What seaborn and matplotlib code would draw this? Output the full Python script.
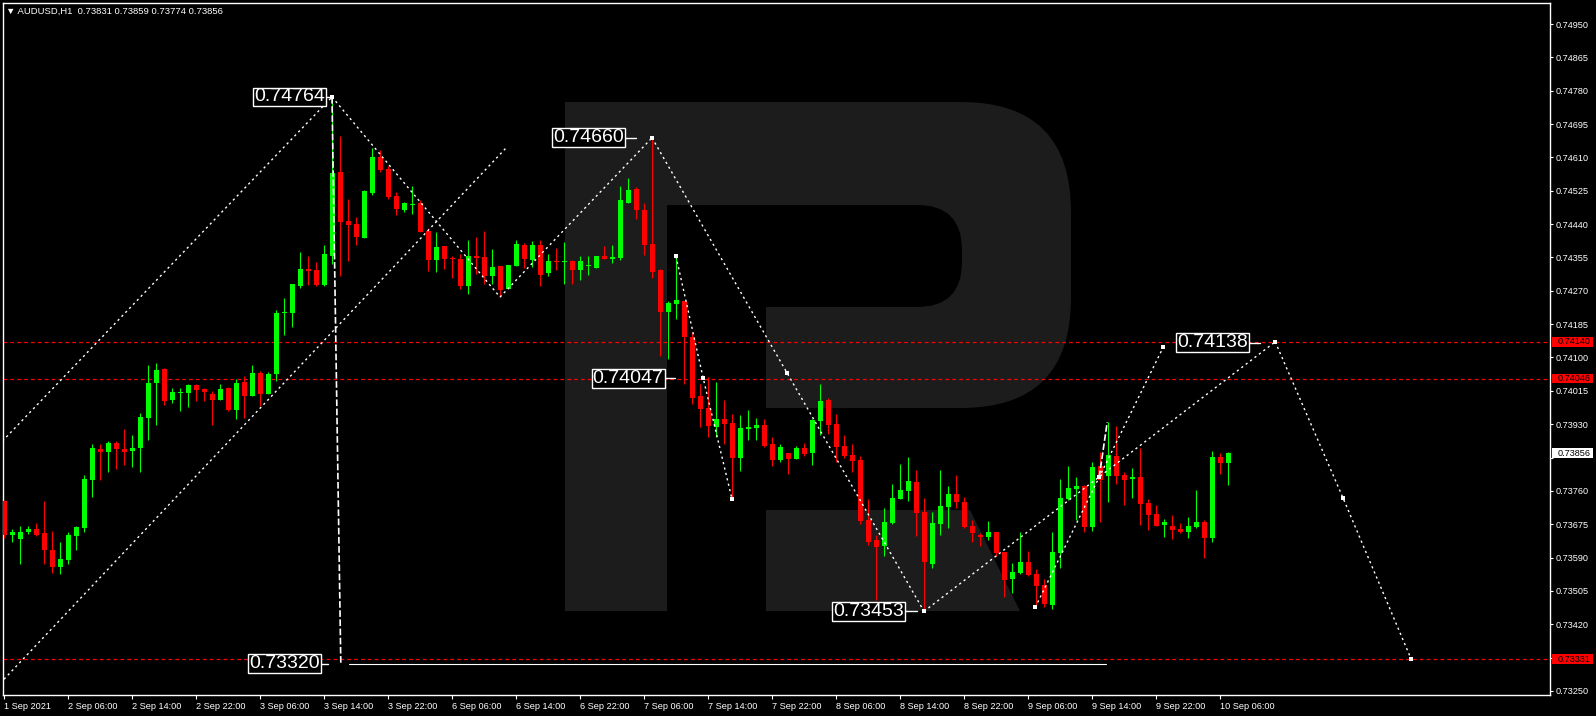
import matplotlib
matplotlib.use("Agg")
import numpy as np
import pandas as pd
import matplotlib.pyplot as plt
import matplotlib.transforms as mtransforms
from matplotlib.patches import FancyBboxPatch, Polygon, Rectangle
import seaborn as sns

# AUDUSD H1 bars, 1 Sep 22:00 .. 10 Sep 07:00
symbol = "AUDUSD,H1"

opens = [
    0.73734, 0.73647, 0.73637, 0.73654, 0.73662, 0.73652, 0.73609, 0.73565, 0.73583, 0.73644,
    0.73665, 0.73787, 0.73866, 0.73858, 0.73881, 0.73866, 0.73861, 0.73869, 0.73945, 0.74034,
    0.74070, 0.73991, 0.74009, 0.74009, 0.74029, 0.74019, 0.74006, 0.73991, 0.74022, 0.73965,
    0.74037, 0.74001, 0.74060, 0.74006, 0.74057, 0.74213, 0.74213, 0.74282, 0.74325, 0.74323,
    0.74284, 0.74358, 0.74572, 0.74448, 0.74440, 0.74404, 0.74519, 0.74611, 0.74580, 0.74511,
    0.74475, 0.74488, 0.74493, 0.74422, 0.74348, 0.74384, 0.74353, 0.74351, 0.74282, 0.74358,
    0.74356, 0.74307, 0.74333, 0.74274, 0.74333, 0.74386, 0.74348, 0.74386, 0.74315, 0.74345,
    0.74343, 0.74345, 0.74323, 0.74333, 0.74328, 0.74358, 0.74351, 0.74353, 0.74493, 0.74529,
    0.74475, 0.74389, 0.74322, 0.74215, 0.74236, 0.74243, 0.74152, 0.74001, 0.73971, 0.73922,
    0.73943, 0.73932, 0.73843, 0.73917, 0.73920, 0.73927, 0.73879, 0.73838, 0.73856, 0.73841,
    0.73869, 0.73856, 0.73937, 0.73991, 0.73930, 0.73874, 0.73851, 0.73838, 0.73685, 0.73634,
    0.73619, 0.73677, 0.73739, 0.73759, 0.73782, 0.73705, 0.73573, 0.73675, 0.73718, 0.73751,
    0.73731, 0.73670, 0.73647, 0.73642, 0.73654, 0.73603, 0.73535, 0.73550, 0.73578, 0.73547,
    0.73519, 0.73468, 0.73601, 0.73739, 0.73764, 0.73772, 0.73667, 0.73823, 0.73797, 0.73848,
    0.73800, 0.73790, 0.73795, 0.73728, 0.73700, 0.73672, 0.73670, 0.73662, 0.73654, 0.73667,
    0.73680, 0.73639, 0.73846, 0.73831,
]
highs = [
    0.73736, 0.73662, 0.73670, 0.73670, 0.73677, 0.73734, 0.73657, 0.73631, 0.73654, 0.73670,
    0.73800, 0.73879, 0.73879, 0.73886, 0.73886, 0.73917, 0.73902, 0.73958, 0.74080, 0.74085,
    0.74072, 0.74022, 0.74022, 0.74032, 0.74032, 0.74021, 0.74014, 0.74032, 0.74024, 0.74045,
    0.74052, 0.74080, 0.74065, 0.74062, 0.74220, 0.74251, 0.74287, 0.74368, 0.74358, 0.74343,
    0.74386, 0.74764, 0.74664, 0.74504, 0.74458, 0.74526, 0.74634, 0.74628, 0.74588, 0.74521,
    0.74496, 0.74537, 0.74501, 0.74430, 0.74419, 0.74384, 0.74358, 0.74363, 0.74399, 0.74407,
    0.74422, 0.74376, 0.74333, 0.74335, 0.74399, 0.74391, 0.74396, 0.74399, 0.74363, 0.74379,
    0.74394, 0.74348, 0.74358, 0.74358, 0.74358, 0.74384, 0.74386, 0.74537, 0.74557, 0.74534,
    0.74493, 0.74660, 0.74325, 0.74243, 0.74358, 0.74243, 0.74164, 0.74032, 0.74050, 0.74037,
    0.73991, 0.73955, 0.73953, 0.73966, 0.73945, 0.73943, 0.73897, 0.73879, 0.73856, 0.73874,
    0.73881, 0.73943, 0.74032, 0.73996, 0.73955, 0.73902, 0.73879, 0.73848, 0.73739, 0.73647,
    0.73716, 0.73777, 0.73828, 0.73846, 0.73812, 0.73741, 0.73705, 0.73812, 0.73772, 0.73800,
    0.73744, 0.73685, 0.73652, 0.73682, 0.73654, 0.73603, 0.73575, 0.73654, 0.73606, 0.73560,
    0.73535, 0.73654, 0.73790, 0.73823, 0.73795, 0.73774, 0.73833, 0.73858, 0.73935, 0.73925,
    0.73807, 0.73818, 0.73869, 0.73739, 0.73723, 0.73688, 0.73698, 0.73677, 0.73693, 0.73761,
    0.73685, 0.73861, 0.73856, 0.73859,
]
lows = [
    0.73639, 0.73629, 0.73573, 0.73649, 0.73644, 0.73573, 0.73550, 0.73547, 0.73573, 0.73609,
    0.73654, 0.73744, 0.73787, 0.73807, 0.73815, 0.73825, 0.73820, 0.73807, 0.73889, 0.73927,
    0.73978, 0.73983, 0.73963, 0.73973, 0.73988, 0.73988, 0.73927, 0.73991, 0.73963, 0.73943,
    0.73945, 0.74001, 0.73976, 0.74006, 0.74039, 0.74157, 0.74177, 0.74277, 0.74284, 0.74282,
    0.74282, 0.74338, 0.74307, 0.74345, 0.74386, 0.74404, 0.74514, 0.74572, 0.74504, 0.74463,
    0.74472, 0.74465, 0.74419, 0.74320, 0.74317, 0.74325, 0.74302, 0.74274, 0.74261, 0.74312,
    0.74287, 0.74287, 0.74254, 0.74274, 0.74333, 0.74328, 0.74330, 0.74282, 0.74307, 0.74323,
    0.74287, 0.74287, 0.74297, 0.74310, 0.74328, 0.74351, 0.74340, 0.74348, 0.74493, 0.74453,
    0.74361, 0.74302, 0.74103, 0.74096, 0.74197, 0.74032, 0.73981, 0.73922, 0.73897, 0.73897,
    0.73879, 0.73739, 0.73810, 0.73889, 0.73889, 0.73871, 0.73823, 0.73833, 0.73802, 0.73841,
    0.73848, 0.73825, 0.73902, 0.73904, 0.73833, 0.73843, 0.73807, 0.73675, 0.73621, 0.73481,
    0.73593, 0.73675, 0.73739, 0.73734, 0.73644, 0.73453, 0.73563, 0.73647, 0.73665, 0.73716,
    0.73665, 0.73631, 0.73619, 0.73634, 0.73593, 0.73489, 0.73499, 0.73547, 0.73542, 0.73461,
    0.73463, 0.73458, 0.73563, 0.73736, 0.73685, 0.73654, 0.73657, 0.73680, 0.73731, 0.73777,
    0.73723, 0.73741, 0.73672, 0.73660, 0.73670, 0.73642, 0.73637, 0.73652, 0.73639, 0.73665,
    0.73588, 0.73631, 0.73802, 0.73774,
]
closes = [
    0.73647, 0.73654, 0.73654, 0.73662, 0.73647, 0.73609, 0.73565, 0.73586, 0.73647, 0.73667,
    0.73790, 0.73869, 0.73858, 0.73881, 0.73866, 0.73858, 0.73869, 0.73948, 0.74034, 0.74067,
    0.73988, 0.74011, 0.74011, 0.74029, 0.74016, 0.74011, 0.73991, 0.74019, 0.73965, 0.74034,
    0.74001, 0.74060, 0.74006, 0.74057, 0.74213, 0.74215, 0.74287, 0.74325, 0.74320, 0.74284,
    0.74363, 0.74570, 0.74445, 0.74437, 0.74407, 0.74524, 0.74611, 0.74577, 0.74509, 0.74478,
    0.74493, 0.74491, 0.74419, 0.74348, 0.74381, 0.74351, 0.74351, 0.74282, 0.74358, 0.74353,
    0.74307, 0.74330, 0.74272, 0.74335, 0.74389, 0.74351, 0.74386, 0.74310, 0.74345, 0.74343,
    0.74345, 0.74323, 0.74345, 0.74335, 0.74358, 0.74351, 0.74356, 0.74501, 0.74526, 0.74475,
    0.74386, 0.74317, 0.74215, 0.74238, 0.74246, 0.74152, 0.73996, 0.73968, 0.73925, 0.73943,
    0.73930, 0.73843, 0.73920, 0.73922, 0.73927, 0.73874, 0.73838, 0.73871, 0.73841, 0.73869,
    0.73853, 0.73940, 0.73988, 0.73927, 0.73871, 0.73848, 0.73835, 0.73682, 0.73631, 0.73616,
    0.73680, 0.73741, 0.73761, 0.73784, 0.73703, 0.73578, 0.73677, 0.73721, 0.73751, 0.73731,
    0.73667, 0.73652, 0.73642, 0.73654, 0.73601, 0.73532, 0.73552, 0.73578, 0.73545, 0.73517,
    0.73471, 0.73603, 0.73741, 0.73767, 0.73772, 0.73667, 0.73820, 0.73787, 0.73851, 0.73797,
    0.73787, 0.73795, 0.73726, 0.73698, 0.73670, 0.73680, 0.73660, 0.73654, 0.73670, 0.73680,
    0.73639, 0.73846, 0.73830, 0.73856,
]

time_labels = [
    "1 Sep 2021", "2 Sep 06:00", "2 Sep 14:00", "2 Sep 22:00", "3 Sep 06:00",
    "3 Sep 14:00", "3 Sep 22:00", "6 Sep 06:00", "6 Sep 14:00", "6 Sep 22:00",
    "7 Sep 06:00", "7 Sep 14:00", "7 Sep 22:00", "8 Sep 06:00", "8 Sep 14:00",
    "8 Sep 22:00", "9 Sep 06:00", "9 Sep 14:00", "9 Sep 22:00", "10 Sep 06:00",
]

price_ticks = [
    0.74950, 0.74865, 0.74780, 0.74695, 0.74610, 0.74525, 0.74440, 0.74355, 0.74270,
    0.74185, 0.74100, 0.74015, 0.73930, 0.73845, 0.73760, 0.73675, 0.73590, 0.73505,
    0.73420, 0.73335, 0.73250,
]
# tick labels that sit under a price tag on the right axis
hidden_ticks = [0.73845, 0.73335]

# horizontal levels and right-axis tags
level_prices = [0.74140, 0.74046, 0.73331]
tag_prices = [0.74140, 0.74046, 0.73856, 0.73331]
tag_colors = ["#ff0000", "#ff0000", "#ffffff", "#ff0000"]

# forecast / wave lines (bar index, price)
wave_id = [0, 0, 1, 1, 2, 2, 3, 3, 4, 4, 4, 5, 5, 5, 6, 6, 7, 7, 7, 8, 8, 8]
wave_bar = [-0.2, 41, 0, 62.75, 41, 62, 62, 81, 81, 97.9, 115, 84, 87.4, 91,
            115, 158.9, 128.9, 136.9, 144.9, 158.9, 167.4, 175.9]
wave_price = [0.73887, 0.74764, 0.73280, 0.74634, 0.74764, 0.74254, 0.74254, 0.74660,
              0.74660, 0.74060, 0.73453, 0.74358, 0.74047, 0.73739, 0.73453, 0.74140,
              0.73463, 0.73795, 0.74126, 0.74140, 0.73741, 0.73331]

arrow_bar = [41, 81, 84, 87.4, 91, 97.9, 115, 128.9, 136.9, 144.9, 158.9, 167.4, 175.9]
arrow_price = [0.74764, 0.74660, 0.74358, 0.74047, 0.73739, 0.74060, 0.73453, 0.73463,
               0.73795, 0.74126, 0.74140, 0.73741, 0.73331]

target_price = 0.73320

label_texts = ["0.74764", "0.74660", "0.74047", "0.73453", "0.74138", "0.73320"]
label_prices = [0.74764, 0.74660, 0.74047, 0.73453, 0.74138, 0.73320]


def main():
    sns.set_style("ticks", {"axes.facecolor": "black", "figure.facecolor": "black"})
    plt.rcParams["font.family"] = ["Liberation Sans", "DejaVu Sans"]

    W, H = 1596, 716
    fig = plt.figure(figsize=(W / 100, H / 100), dpi=100)
    fig.patch.set_facecolor("black")

    # watermark logo, drawn in figure pixels
    bg = fig.add_axes([0, 0, 1, 1])
    bg.set_xlim(0, W)
    bg.set_ylim(H, 0)
    bg.axis("off")
    grey = "#1c1c1c"
    bg.add_patch(FancyBboxPatch((565, 102), 506, 306, boxstyle="round,pad=0,rounding_size=110",
                                fc=grey, ec="none"))
    bg.add_patch(Rectangle((565, 102), 300, 306, fc=grey, ec="none"))
    bg.add_patch(Rectangle((565, 102), 102, 509, fc=grey, ec="none"))
    bg.add_patch(FancyBboxPatch((667, 205), 295, 102, boxstyle="round,pad=0,rounding_size=45",
                                fc="black", ec="none"))
    bg.add_patch(Rectangle((667, 205), 150, 102, fc="black", ec="none"))
    bg.add_patch(Rectangle((667, 306), 99, 103, fc="black", ec="none"))
    bg.add_patch(Polygon([(766, 510), (970, 510), (1020, 611), (766, 611)], fc=grey, ec="none"))

    ax = fig.add_axes([2.5 / W, (H - 695.3) / H, 1547.5 / W, 692.6 / H])
    ax.set_facecolor("none")
    ax.set_xlim(-0.19, 193.25)
    ax.set_ylim(0.73239, 0.750043)
    ax.grid(False)

    o = np.array(opens)
    h = np.array(highs)
    l = np.array(lows)
    c = np.array(closes)
    x = np.arange(len(o))
    up = c >= o
    green, red = "#00ff00", "#ff0000"
    colors = np.where(up, green, red)

    # levels
    for p in level_prices:
        ax.axhline(p, color=red, lw=0.9, dashes=(3, 2.5), zorder=1)

    # candles
    ax.vlines(x, l, h, colors=colors, lw=0.8, zorder=3)
    body_lo = np.minimum(o, c)
    body_h = np.maximum(np.abs(c - o), 2.6e-5)
    ax.bar(x[up], body_h[up], bottom=body_lo[up], width=0.625, color=green, lw=0, zorder=3)
    ax.bar(x[~up], body_h[~up], bottom=body_lo[~up], width=0.625, color=red, lw=0, zorder=3)

    # wave lines
    wave_df = pd.DataFrame({"seg": wave_id, "bar": wave_bar, "price": wave_price})
    sns.lineplot(data=wave_df, x="bar", y="price", units="seg", estimator=None, sort=False,
                 color="white", lw=1, linestyle=(0, (1.6, 2.4)), ax=ax, legend=False, zorder=4)
    ax.plot([41, 42.1], [0.74764, target_price], color="white", lw=1.2, dashes=(4, 1.5), zorder=4)
    ax.plot([136.9, 137.9], [0.73795, 0.73935], color="white", lw=1.2, dashes=(4, 1.5), zorder=4)
    ax.plot([43.1, 137.75], [target_price, target_price], color="white", lw=0.8, zorder=4)
    sns.scatterplot(x=arrow_bar, y=arrow_price, marker="s", s=9, color="white",
                    linewidth=0, ax=ax, legend=False, zorder=6)

    # price labels on the waves
    box_right = [40.3, 77.6, 82.6, 112.6, 155.6, 39.6]
    tick_end = [40.9, 79.0, 83.9, 114.1, 157.0, 40.5]
    for txt, p, br, te in zip(label_texts, label_prices, box_right, tick_end):
        ax.plot([br, te], [p, p], color="white", lw=1, zorder=6)
        ax.text(br - 0.15, p, txt, ha="right", va="center", color="white", fontsize=14,
                bbox=dict(boxstyle="square,pad=0.05", fc="black", ec="white", lw=1), zorder=7)

    # axes styling
    for s in ax.spines.values():
        s.set_color("white")
        s.set_linewidth(1)
    ax.yaxis.tick_right()
    ax.set_yticks(price_ticks)
    ax.set_yticklabels(["" if v in hidden_ticks else f"{v:.5f}" for v in price_ticks])
    ax.tick_params(axis="y", colors="white", length=2.2, width=0.8, pad=2.2, labelsize=6.6)
    ax.set_xticks(x[::8][:len(time_labels)])
    ax.set_xticklabels(time_labels, ha="left")
    ax.tick_params(axis="x", colors="white", length=3, width=0.8, pad=2, labelsize=6.6)
    ax.set_xlabel("")
    ax.set_ylabel("")

    # right-axis price tags
    trans = mtransforms.blended_transform_factory(ax.transAxes, ax.transData)
    tag_h = 9.5 * (0.750043 - 0.73239) / 692.6
    for p, col in zip(tag_prices, tag_colors):
        ax.add_patch(Rectangle((1.0011, p - tag_h / 2), 0.0265, tag_h, transform=trans,
                               fc=col, ec="none", clip_on=False, zorder=8))
        ax.text(1.0047, p, f"{p:.5f}", transform=trans, color="black", fontsize=6.6,
                va="center", ha="left", clip_on=False, zorder=9)

    # header
    ax.text(0.0023, 0.9875,
            f"\u25bc {symbol}  {o[-1]:.5f} {h[-1]:.5f} {l[-1]:.5f} {c[-1]:.5f}",
            transform=ax.transAxes, color="white", fontsize=6.8, va="center", ha="left",
            zorder=9)

    fig.savefig("out.png", dpi=100, facecolor="black")
    plt.close(fig)


if __name__ == "__main__":
    main()
